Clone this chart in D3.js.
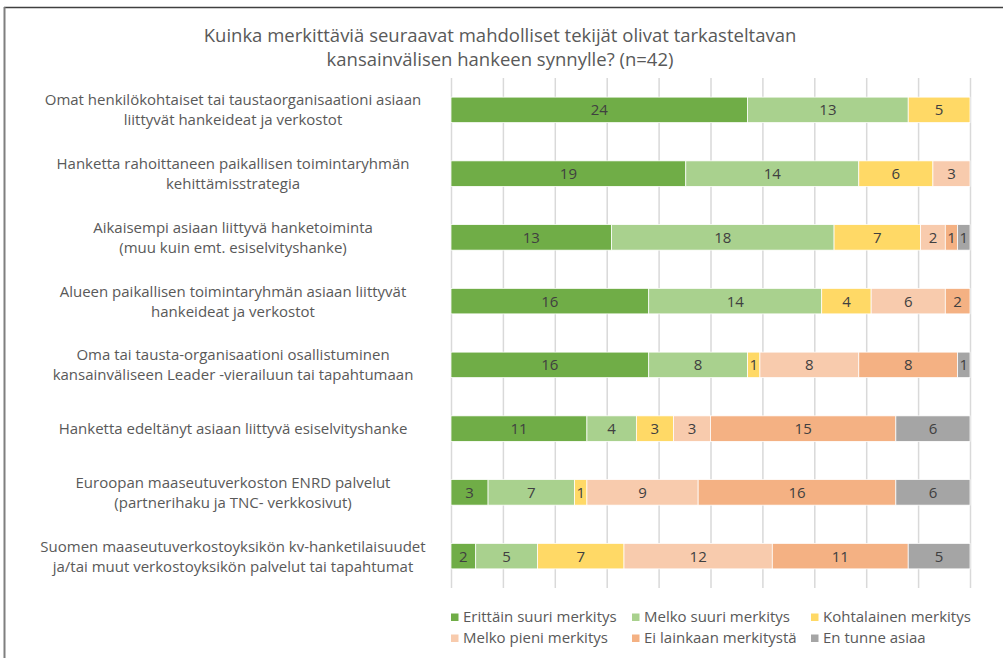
<!DOCTYPE html>
<html>
<head>
<meta charset="utf-8">
<script src="https://cdn.jsdelivr.net/npm/d3@7"></script>
<style>
  body { margin: 0; background: #fff; }
  svg { display: block; }
  text { font-family: "Open Sans", "Noto Sans", sans-serif; }
</style>
</head>
<body>
<div id="chart"></div>
<script>
// chart data
var titleLines = [
    "Kuinka merkittäviä seuraavat mahdolliset tekijät olivat tarkasteltavan",
    "kansainvälisen hankeen synnylle? (n=42)"
];

var categories = [
    "Omat henkilökohtaiset tai taustaorganisaationi asiaan\nliittyvät hankeideat ja verkostot",
    "Hanketta rahoittaneen paikallisen toimintaryhmän\nkehittämisstrategia",
    "Aikaisempi asiaan liittyvä hanketoiminta\n(muu kuin emt. esiselvityshanke)",
    "Alueen paikallisen toimintaryhmän asiaan liittyvät\nhankeideat ja verkostot",
    "Oma tai tausta-organisaationi osallistuminen\nkansainväliseen Leader -vierailuun tai tapahtumaan",
    "Hanketta edeltänyt asiaan liittyvä esiselvityshanke",
    "Euroopan maaseutuverkoston ENRD palvelut\n(partnerihaku ja TNC- verkkosivut)",
    "Suomen maaseutuverkostoyksikön kv-hanketilaisuudet\nja/tai muut verkostoyksikön palvelut tai tapahtumat"
];

var seriesNames = [
    "Erittäin suuri merkitys",
    "Melko suuri merkitys",
    "Kohtalainen merkitys",
    "Melko pieni merkitys",
    "Ei lainkaan merkitystä",
    "En tunne asiaa"
];

var erittainSuuri = [24, 19, 13, 16, 16, 11, 3, 2];
var melkoSuuri    = [13, 14, 18, 14, 8, 4, 7, 5];
var kohtalainen   = [5, 6, 7, 4, 1, 3, 1, 7];
var melkoPieni    = [0, 3, 2, 6, 8, 3, 9, 12];
var eiLainkaan    = [0, 0, 1, 2, 8, 15, 16, 11];
var enTunne       = [0, 0, 1, 0, 1, 6, 6, 5];

var colors = ["#70AD47", "#A9D18E", "#FFD966", "#F8CBAD", "#F4B183", "#A5A5A5"];

var width = 1003, height = 658;
var margin = { top: 78, right: 33, bottom: 70, left: 451 };

var allSeries = [erittainSuuri, melkoSuuri, kohtalainen, melkoPieni, eiLainkaan, enTunne];

var rows = categories.map(function (c, i) {
    var r = { cat: c };
    seriesNames.forEach(function (s, j) { r[s] = allSeries[j][i]; });
    return r;
});
var total = d3.max(rows, function (r) { return d3.sum(seriesNames, function (s) { return r[s]; }); });

var svg = d3.select("#chart").append("svg")
    .attr("width", width)
    .attr("height", height);

// frame
svg.append("line").attr("x1", 4).attr("x2", width).attr("y1", 7.5).attr("y2", 7.5)
    .attr("stroke", "#404040").attr("stroke-width", 1.5);
svg.append("line").attr("x1", 4.5).attr("x2", 4.5).attr("y1", 7).attr("y2", height)
    .attr("stroke", "#7f7f7f").attr("stroke-width", 2);

// title, one text per line
svg.append("g")
    .selectAll("text")
    .data(titleLines)
    .enter()
    .append("text")
    .attr("x", 500)
    .attr("y", function (d, i) { return 42 + i * 24; })
    .attr("text-anchor", "middle")
    .style("font-size", "18.5px")
    .style("fill", "#595959")
    .text(function (d) { return d; });

var x = d3.scaleLinear()
    .domain([0, total])
    .range([margin.left, width - margin.right]);

var y = d3.scaleBand()
    .domain(categories)
    .range([margin.top, height - margin.bottom])
    .paddingInner(0.6)
    .paddingOuter(0.3);

// grid lines every 10 %
svg.append("g")
    .attr("transform", "translate(0," + (height - margin.bottom) + ")")
    .call(d3.axisBottom(x)
        .tickValues(d3.range(0, 11).map(function (k) { return total * k / 10; }))
        .tickSize(-(height - margin.bottom - margin.top))
        .tickFormat(""))
    .call(function (g) { g.select(".domain").remove(); })
    .call(function (g) {
        g.selectAll(".tick line")
            .attr("stroke", "#D9D9D9")
            .attr("stroke-width", 1.5);
    });

var stack = d3.stack().keys(seriesNames);
var stacked = stack(rows);

var layers = svg.selectAll("g.layer")
    .data(stacked)
    .enter()
    .append("g")
    .attr("class", "layer")
    .attr("fill", function (d, i) { return colors[i]; });

layers.selectAll("rect")
    .data(function (d) { return d.filter(function (p) { return p[1] > p[0]; }); })
    .enter()
    .append("rect")
    .attr("x", function (p) { return x(p[0]); })
    .attr("y", function (p) { return y(p.data.cat); })
    .attr("width", function (p) { return x(p[1]) - x(p[0]); })
    .attr("height", y.bandwidth())
    .attr("stroke", "#ffffff")
    .attr("stroke-width", 0.75);

layers.selectAll("text")
    .data(function (d) { return d.filter(function (p) { return p[1] > p[0]; }); })
    .enter()
    .append("text")
    .attr("x", function (p) { return (x(p[0]) + x(p[1])) / 2; })
    .attr("y", function (p) { return y(p.data.cat) + y.bandwidth() / 2; })
    .attr("dy", "0.36em")
    .attr("text-anchor", "middle")
    .style("font-size", "15px")
    .style("fill", "#404040")
    .text(function (p) { return p[1] - p[0]; });

// category labels
var labelX = 233;
svg.append("g")
    .selectAll("text")
    .data(categories)
    .enter()
    .append("text")
    .attr("text-anchor", "middle")
    .style("font-size", "15px")
    .style("fill", "#595959")
    .each(function (c) {
        var lines = c.split("\n");
        var cy = y(c) + y.bandwidth() / 2;
        var lh = 20;
        var t = d3.select(this);
        lines.forEach(function (l, i) {
            t.append("tspan")
                .attr("x", labelX)
                .attr("y", cy + (i - (lines.length - 1) / 2) * lh)
                .attr("dy", "0.36em")
                .text(l);
        });
    });

// legend
var legendX = [451, 632, 811];
var legendY = [617, 638];
var legend = svg.append("g")
    .selectAll("g")
    .data(seriesNames)
    .enter()
    .append("g")
    .attr("transform", function (d, i) {
        return "translate(" + legendX[i % 3] + "," + legendY[Math.floor(i / 3)] + ")";
    });

legend.append("rect")
    .attr("x", 0)
    .attr("y", -3.5)
    .attr("width", 7.5)
    .attr("height", 7.5)
    .attr("fill", function (d, i) { return colors[i]; });

legend.append("text")
    .attr("x", 12)
    .attr("y", 0)
    .attr("dy", "0.36em")
    .style("font-size", "15px")
    .style("fill", "#595959")
    .text(function (d) { return d; });
</script>
</body>
</html>
